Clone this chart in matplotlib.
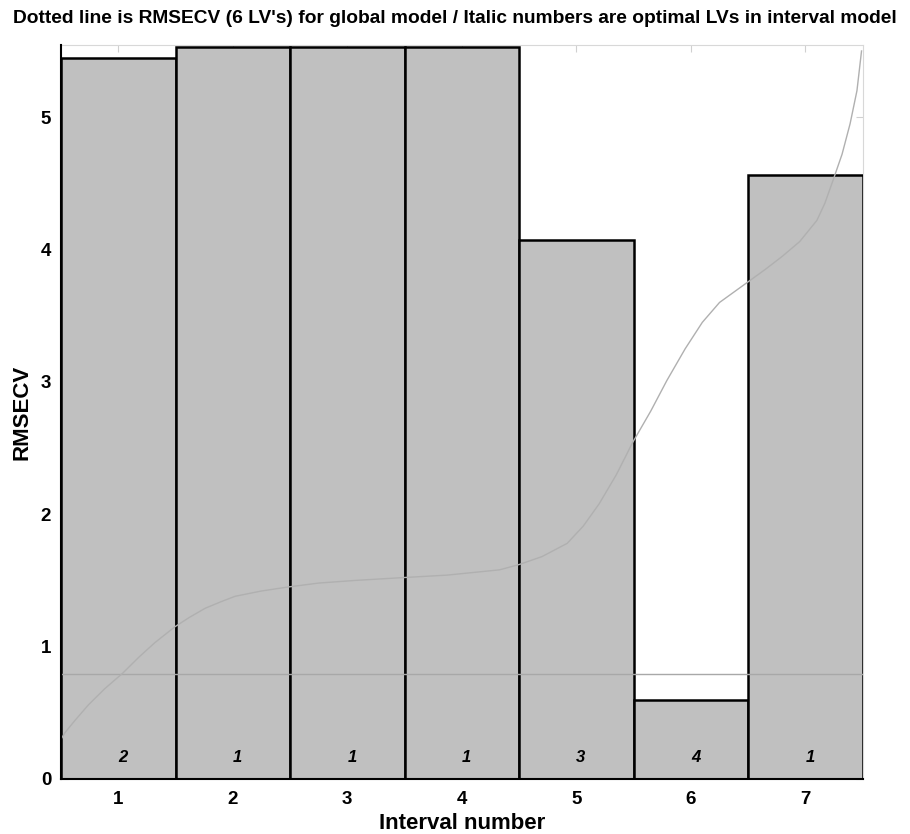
import matplotlib
matplotlib.use("Agg")
import matplotlib.pyplot as plt

plt.rcParams['font.family'] = ['Liberation Sans', 'DejaVu Sans']

intervals = [1, 2, 3, 4, 5, 6, 7]
rmsecv = [5.45, 5.53, 5.53, 5.53, 4.07, 0.60, 4.56]
opt_lvs = [2, 1, 1, 1, 3, 4, 1]
global_rmsecv = 0.79

curve_x = [0.50, 0.535, 0.62, 0.74, 0.88, 1.04, 1.18, 1.32, 1.495, 1.62, 1.76,
           1.90, 2.02, 2.25, 2.48, 2.75, 3.07, 3.46, 3.87, 4.10, 4.33, 4.50,
           4.70, 4.92, 5.06, 5.20, 5.35, 5.49, 5.65, 5.79, 5.95, 6.10, 6.25,
           6.49, 6.65, 6.80, 6.95, 7.10, 7.17, 7.24, 7.32, 7.39, 7.45, 7.49]
curve_y = [0.30, 0.35, 0.44, 0.56, 0.68, 0.80, 0.92, 1.03, 1.15, 1.22, 1.29,
           1.34, 1.38, 1.42, 1.45, 1.48, 1.50, 1.52, 1.54, 1.56, 1.58, 1.62,
           1.68, 1.78, 1.91, 2.08, 2.30, 2.54, 2.78, 3.01, 3.25, 3.45, 3.60,
           3.75, 3.85, 3.95, 4.06, 4.22, 4.35, 4.52, 4.72, 4.95, 5.20, 5.50]

title = "Dotted line is RMSECV (6 LV's) for global model / Italic numbers are optimal LVs in interval model"

fig = plt.figure(figsize=(9.10, 8.34), dpi=100)
ax = fig.add_axes([0.067, 0.066, 0.881, 0.880])

ax.bar(intervals, rmsecv, width=1.0, color='#c0c0c0', edgecolor='black',
       linewidth=1.8, zorder=3)
ax.axhline(global_rmsecv, color='#a8a8a8', linewidth=1.0, zorder=4)
ax.plot(curve_x, curve_y, color='#b0b0b0', linewidth=1.0, zorder=4)

for xi, lv in zip(intervals, opt_lvs):
    ax.text(xi, 0.16, str(lv), ha='left', va='center', fontsize=12,
            fontstyle='italic', fontweight='bold', zorder=5)

ax.set_xlim(0.5, 7.5)
ax.set_ylim(0, 5.545)
ax.set_xticks(intervals)
ax.set_yticks([0, 1, 2, 3, 4, 5])
ax.tick_params(direction='in', top=True, right=True, length=5, color='#d0d0d0',
               labelsize=13.5)
ax.tick_params(axis='x', pad=9)
ax.tick_params(axis='y', pad=7)
for lab in ax.get_xticklabels() + ax.get_yticklabels():
    lab.set_fontweight('bold')
ax.spines['left'].set_color('black')
ax.spines['bottom'].set_color('black')
ax.spines['left'].set_linewidth(1.5)
ax.spines['bottom'].set_linewidth(1.5)
ax.spines['top'].set_color('#d8d8d8')
ax.spines['right'].set_color('#d8d8d8')
ax.spines['left'].set_zorder(6)
ax.spines['bottom'].set_zorder(6)

ax.set_xlabel('Interval number', fontsize=16, fontweight='bold', labelpad=3)
ax.set_ylabel('RMSECV', fontsize=16, fontweight='bold', labelpad=6)
fig.text(0.5, 0.978, title, ha='center', va='center', fontsize=13.8, fontweight='bold')

fig.savefig('out.png', dpi=100)
